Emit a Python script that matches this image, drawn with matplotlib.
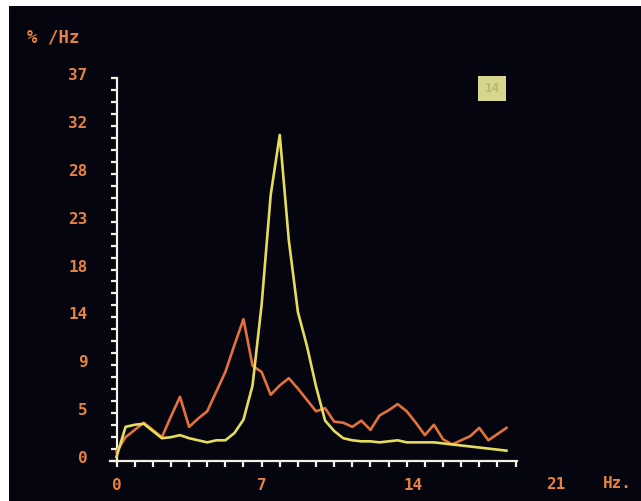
import numpy as np
import matplotlib.pyplot as plt
from matplotlib.patches import Rectangle
from matplotlib.ticker import FixedLocator
import matplotlib.transforms as mtransforms

# spectrum samples, 0.4375 Hz apart
step_hz = 0.4375
orange = [0.9, 2.3, 3.0, 3.7, 3.0, 2.3, 4.3, 6.2, 3.3, 4.1,
          4.8, 6.7, 8.6, 11.2, 13.7, 9.2, 8.6, 6.4, 7.3, 8.0,
          7.0, 5.9, 4.8, 5.1, 3.8, 3.7, 3.3, 3.9, 3.0, 4.4,
          4.9, 5.5, 4.8, 3.7, 2.5, 3.5, 2.1, 1.6, 2.0, 2.4,
          3.2, 2.0, 2.6, 3.2]
yellow = [0.4, 3.3, 3.5, 3.6, 2.9, 2.2, 2.3, 2.5, 2.2, 2.0,
          1.8, 2.0, 2.0, 2.7, 4.0, 7.3, 15.1, 25.7, 31.5, 21.3,
          14.4, 11.1, 7.2, 3.9, 2.9, 2.2, 2.0, 1.9, 1.9, 1.8,
          1.9, 2.0, 1.8, 1.8, 1.8, 1.8, 1.7, 1.6, 1.5, 1.4,
          1.3, 1.2, 1.1, 1.0]
freqs = np.arange(len(orange)) * step_hz

y_max = 37
y_labels = ["0", "5", "9", "14", "18", "23", "28", "32", "37"]
x_labels = ["0", "7", "14"]
x_label_pos = [0, 7, 14]

bg = "#04050e"
txt = "#e8823e"
axis_col = "#f4f0e4"

fig = plt.figure(figsize=(6.41, 5.01), dpi=100, facecolor="white")
fig.patches.append(Rectangle((9 / 641, 0), 1, 495 / 501, transform=fig.transFigure,
                             facecolor=bg, edgecolor="none", zorder=-10))

ax = fig.add_axes([110.3 / 641, 40 / 501, 406.7 / 641, 383 / 501])
ax.set_facecolor("none")

ax.plot(freqs, orange, color="#e3723a", lw=1.9, zorder=3)
ax.plot(freqs, yellow, color="#e6dc5c", lw=1.9, zorder=4)

ax.set_xlim(-0.3, 19.32)
ax.set_ylim(0, y_max)

for s in ["top", "right"]:
    ax.spines[s].set_visible(False)
ax.spines["left"].set_position(("data", 0))
for s in ["left", "bottom"]:
    ax.spines[s].set_color(axis_col)
    ax.spines[s].set_linewidth(1.6)

# y ticks: labels every 4 small ticks
y_major = [y_max * k / 8 for k in range(9)]
ax.yaxis.set_major_locator(FixedLocator(y_major))
ax.yaxis.set_minor_locator(FixedLocator([y_max * k / 32 for k in range(33)]))
ax.set_yticklabels(y_labels)

ax.xaxis.set_major_locator(FixedLocator(x_label_pos))
ax.xaxis.set_minor_locator(FixedLocator([0.875 * k for k in range(23)]))
ax.set_xticklabels(x_labels)

ax.tick_params(which="both", colors=axis_col, width=1.6, length=4, direction="out")
ax.tick_params(axis="y", which="major", pad=17, labelcolor=txt, labelsize=11.5)
ax.tick_params(axis="x", which="major", pad=8, labelcolor=txt, labelsize=11.5)

lab_font = dict(family="DejaVu Sans Mono", weight="bold")
for lab in ax.get_yticklabels() + ax.get_xticklabels():
    lab.set_fontfamily("DejaVu Sans Mono")
    lab.set_fontweight("bold")
off = mtransforms.ScaledTranslation(0, 4 / 100, fig.dpi_scale_trans)
for lab in ax.get_yticklabels():
    lab.set_transform(lab.get_transform() + off)
# the screen puts "14" a few pixels to the right of its tick
xl = ax.get_xticklabels()
xl[2].set_transform(xl[2].get_transform()
                    + mtransforms.ScaledTranslation(6 / 100, 0, fig.dpi_scale_trans))

ax.annotate("21", xy=(21, 0), xycoords=("data", "axes fraction"),
            xytext=(4, -16), textcoords="offset pixels", ha="center", va="top",
            color=txt, fontsize=11.5, annotation_clip=False, **lab_font)
fig.text(603 / 641, 17 / 501, "Hz.", color=txt, fontsize=11.5, ha="left",
         va="center", **lab_font)
fig.text(27 / 641, (501 - 38) / 501, "% /Hz", color=txt, fontsize=12.5,
         ha="left", va="center", **lab_font)

fig.text(492 / 641, (501 - 88.5) / 501, "14", color="#b8b870", fontsize=9,
         ha="center", va="center", **lab_font,
         bbox=dict(boxstyle="square,pad=0.5", fc="#d6d68e", ec="none"))

fig.savefig("out.png", dpi=100, facecolor=fig.get_facecolor())
